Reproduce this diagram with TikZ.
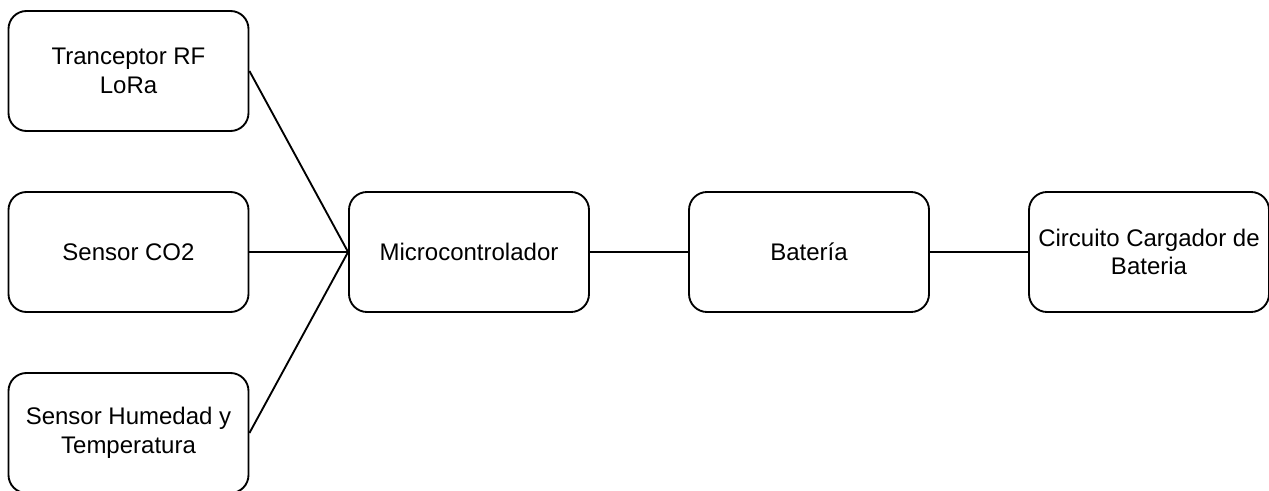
\documentclass[tikz,border=0pt]{standalone}
\usepackage{fontspec}
\setmainfont{Liberation Sans}
\begin{document}
\begin{tikzpicture}[x=0.75pt, y=-0.75pt, every node/.style={font=\fontsize{18}{21.6}\selectfont, align=center},
    block/.style={draw, line width=1.4pt, rounded corners=13.5pt, minimum width=180pt, minimum height=90pt, inner sep=0pt}]
          \useasboundingbox (0,0) rectangle (1269,491);
          \node [block] (lora) at (128.5,71) {Tranceptor RF\\LoRa};
          \node [block] (co2) at (128.5,252) {Sensor CO2};
          \node [block] (hum) at (128.5,433) {Sensor Humedad y\\Temperatura};
          \node [block] (mcu) at (469,252) {Microcontrolador};
          \node [block] (bat) at (809,252) {Batería};
          \node [block] (charger) at (1149,252) {Circuito Cargador de\\Bateria};
\draw[line width=1.4pt] (lora.east) -- (mcu.west);
\draw[line width=1.4pt] (co2.east) -- (mcu.west);
\draw[line width=1.4pt] (hum.east) -- (mcu.west);
\draw[line width=1.4pt] (mcu.east) -- (bat.west);
\draw[line width=1.4pt] (bat.east) -- (charger.west);

        \end{tikzpicture}
\end{document}
